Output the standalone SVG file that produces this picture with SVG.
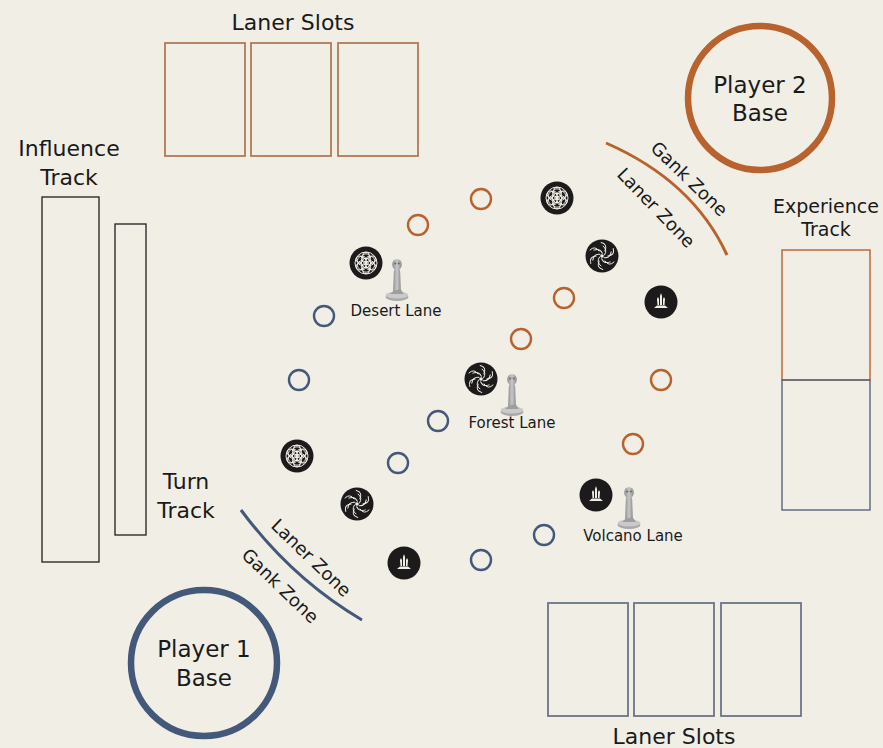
<svg xmlns="http://www.w3.org/2000/svg" xmlns:xlink="http://www.w3.org/1999/xlink" width="883" height="748" viewBox="0 0 883 748">
  <style>
    text { font-family: "DejaVu Sans", "Liberation Sans", sans-serif; fill: #1a1a1a; text-anchor: middle; }
    .lbl { font-size: 22px; }
    .base { font-size: 23px; }
    .lane { font-size: 15px; }
    .zone { font-size: 18px; }
    .or { stroke: #B8622E; fill: none; }
    .bl { stroke: #44587A; fill: none; }
    .dk { stroke: #1e1e1e; fill: none; stroke-width: 1.3; }
    .slot-o { stroke: #B07A56; fill: none; stroke-width: 1.8; }
    .slot-b { stroke: #6B7488; fill: none; stroke-width: 1.8; }
    .spot { stroke-width: 2.4; fill: none; }
    .tok { fill: #1c1a1a; }
    .ic { stroke: #f1eee6; fill: none; stroke-width: 1; }
  </style>
  <defs>
    <symbol id="flower" viewBox="-16 -16 32 32" overflow="visible">
      <circle r="16.5" class="tok"/>
      <g class="ic" stroke-width="0.8">
        <circle r="11"/>
        <circle r="4.6"/>
        <circle cx="0" cy="-4.6" r="4.6"/>
        <circle cx="0" cy="4.6" r="4.6"/>
        <circle cx="3.98" cy="-2.3" r="4.6"/>
        <circle cx="3.98" cy="2.3" r="4.6"/>
        <circle cx="-3.98" cy="-2.3" r="4.6"/>
        <circle cx="-3.98" cy="2.3" r="4.6"/>
        <circle cx="0" cy="-7.4" r="3.4"/>
        <circle cx="0" cy="7.4" r="3.4"/>
        <circle cx="6.4" cy="-3.7" r="3.4"/>
        <circle cx="6.4" cy="3.7" r="3.4"/>
        <circle cx="-6.4" cy="-3.7" r="3.4"/>
        <circle cx="-6.4" cy="3.7" r="3.4"/>
      </g>
    </symbol>
    <symbol id="spiral" viewBox="-16 -16 32 32" overflow="visible">
      <circle r="16.5" class="tok"/>
      <g class="ic" stroke-width="1.5" stroke-linecap="round">
        <path d="M2.5,-1 Q6,-6 1,-10"/>
        <path d="M2.5,-1 Q6,-6 1,-10" transform="rotate(60)"/>
        <path d="M2.5,-1 Q6,-6 1,-10" transform="rotate(120)"/>
        <path d="M2.5,-1 Q6,-6 1,-10" transform="rotate(180)"/>
        <path d="M2.5,-1 Q6,-6 1,-10" transform="rotate(240)"/>
        <path d="M2.5,-1 Q6,-6 1,-10" transform="rotate(300)"/>
        <path d="M5,-3 Q11,-7 6,-12" transform="rotate(30)"/>
        <path d="M5,-3 Q11,-7 6,-12" transform="rotate(90)"/>
        <path d="M5,-3 Q11,-7 6,-12" transform="rotate(150)"/>
        <path d="M5,-3 Q11,-7 6,-12" transform="rotate(210)"/>
        <path d="M5,-3 Q11,-7 6,-12" transform="rotate(270)"/>
        <path d="M5,-3 Q11,-7 6,-12" transform="rotate(330)"/>
      </g>
      <circle r="1.8" fill="#f1eee6"/>
    </symbol>
    <symbol id="crystal" viewBox="-16 -16 32 32" overflow="visible">
      <circle r="16.5" class="tok"/>
      <g fill="#f1eee6">
        <path d="M-1,3 L-1,-6 L0,-9 L1,-6 L1,3 Z"/>
        <path d="M-3.5,3 L-4,-3 L-3,-5 L-2,-3 L-2,3 Z"/>
        <path d="M2,3 L2,-3 L3,-5 L4,-3 L3.5,3 Z"/>
        <path d="M-7,6 L-4,3.5 L4,3.5 L7,6 Z"/>
      </g>
    </symbol>
    <linearGradient id="pewter" x1="0" x2="1" y1="0" y2="0">
      <stop offset="0" stop-color="#8f8f8f"/>
      <stop offset="0.5" stop-color="#c8c8c8"/>
      <stop offset="1" stop-color="#8c8c8c"/>
    </linearGradient>
    <symbol id="figure" viewBox="-12 -22 24 44" overflow="visible">
      <ellipse cx="0" cy="17" rx="11.5" ry="4" fill="#a9a9a9"/>
      <ellipse cx="0" cy="15" rx="11.5" ry="3.5" fill="#cacaca"/>
      <path d="M-4,14 L-3.2,-8 Q-3,-12 0,-12 Q3,-12 3.2,-8 L4,14 Z" fill="url(#pewter)"/>
      <path d="M-3.5,11 L-7,14 L7,14 L3.5,9 Z" fill="#9e9e9e"/>
      <ellipse cx="0" cy="-15.5" rx="4.8" ry="5.6" fill="url(#pewter)"/>
      <ellipse cx="-1.8" cy="-16.5" rx="1.2" ry="1" fill="#6f6f6f"/>
      <ellipse cx="1.8" cy="-16.5" rx="1.2" ry="1" fill="#6f6f6f"/>
    </symbol>
  </defs>

  <rect width="883" height="748" fill="#F1EEE6"/>

  <!-- Player 2 laner slots (top) -->
  <g id="laner-slots-p2">
    <text class="lbl" x="293" y="30">Laner Slots</text>
    <rect class="slot-o" x="165" y="43" width="80" height="113"/>
    <rect class="slot-o" x="251" y="43" width="80" height="113"/>
    <rect class="slot-o" x="338" y="43" width="80" height="113"/>
  </g>

  <!-- Player 1 laner slots (bottom) -->
  <g id="laner-slots-p1">
    <rect class="slot-b" x="548" y="603" width="80" height="113"/>
    <rect class="slot-b" x="634" y="603" width="80" height="113"/>
    <rect class="slot-b" x="721" y="603" width="80" height="113"/>
    <text class="lbl" x="674" y="744">Laner Slots</text>
  </g>

  <!-- Bases -->
  <g id="player2-base">
    <circle class="or" cx="760" cy="98" r="72" stroke-width="6.5"/>
    <text class="base" x="760" y="93">Player 2</text>
    <text class="base" x="760" y="121">Base</text>
  </g>
  <g id="player1-base">
    <circle class="bl" cx="204" cy="663" r="73" stroke-width="6.5"/>
    <text class="base" x="204" y="657">Player 1</text>
    <text class="base" x="204" y="686">Base</text>
  </g>

  <!-- Tracks -->
  <g id="influence-track">
    <text class="lbl" x="69" y="156">Influence</text>
    <text class="lbl" x="69" y="185">Track</text>
    <rect class="dk" x="42" y="197" width="57" height="365"/>
  </g>
  <g id="turn-track">
    <rect class="dk" x="115" y="224" width="31" height="311"/>
    <text class="lbl" x="186" y="489">Turn</text>
    <text class="lbl" x="186" y="518">Track</text>
  </g>
  <g id="experience-track">
    <text x="826" y="213" style="font-size:19px">Experience</text>
    <text x="826" y="236" style="font-size:19px">Track</text>
    <rect x="782" y="250" width="88" height="130" fill="none" stroke="#B8622E" stroke-width="1.4"/>
    <rect x="782" y="380" width="88" height="130" fill="none" stroke="#56647E" stroke-width="1.4"/>
  </g>

  <!-- Zone dividers -->
  <g id="zones-p2">
    <path class="or" d="M606,143 Q693,181 727,255" stroke-width="3"/>
    <text class="zone" transform="translate(689,179) rotate(44)" dy="6">Gank Zone</text>
    <text class="zone" transform="translate(656,208) rotate(46)" dy="6">Laner Zone</text>
  </g>
  <g id="zones-p1">
    <path class="bl" d="M241,510 Q292,579 362,620" stroke-width="3"/>
    <text class="zone" transform="translate(311,558) rotate(44)" dy="6">Laner Zone</text>
    <text class="zone" transform="translate(280,586) rotate(44)" dy="6">Gank Zone</text>
  </g>

  <!-- Lane spaces -->
  <g id="spaces-p2" class="or">
    <circle class="spot" cx="418" cy="225" r="10"/>
    <circle class="spot" cx="481" cy="199" r="10"/>
    <circle class="spot" cx="564" cy="298" r="10"/>
    <circle class="spot" cx="521" cy="339" r="10"/>
    <circle class="spot" cx="661" cy="380" r="10"/>
    <circle class="spot" cx="633" cy="444" r="10"/>
  </g>
  <g id="spaces-p1" class="bl">
    <circle class="spot" cx="324" cy="316" r="10"/>
    <circle class="spot" cx="299" cy="380" r="10"/>
    <circle class="spot" cx="438" cy="421" r="10"/>
    <circle class="spot" cx="398" cy="463" r="10"/>
    <circle class="spot" cx="544" cy="535" r="10"/>
    <circle class="spot" cx="481" cy="560" r="10"/>
  </g>

  <!-- Terrain tokens -->
  <g id="tokens">
    <use xlink:href="#flower" x="350" y="247" width="32" height="32"/>
    <use xlink:href="#flower" x="541" y="182" width="32" height="32"/>
    <use xlink:href="#flower" x="281" y="440" width="32" height="32"/>
    <use xlink:href="#spiral" x="586" y="240" width="32" height="32"/>
    <use xlink:href="#spiral" x="465" y="363" width="32" height="32"/>
    <use xlink:href="#spiral" x="341" y="488" width="32" height="32"/>
    <use xlink:href="#crystal" x="645" y="286" width="32" height="32"/>
    <use xlink:href="#crystal" x="388" y="547" width="32" height="32"/>
    <use xlink:href="#crystal" x="580" y="479" width="32" height="32"/>
  </g>

  <!-- Lanes -->
  <g id="desert-lane">
    <use xlink:href="#figure" x="385" y="258" width="24" height="44"/>
    <text class="lane" x="396" y="316">Desert Lane</text>
  </g>
  <g id="forest-lane">
    <use xlink:href="#figure" x="500" y="373" width="24" height="44"/>
    <text class="lane" x="512" y="428">Forest Lane</text>
  </g>
  <g id="volcano-lane">
    <use xlink:href="#figure" x="617" y="486" width="24" height="44"/>
    <text class="lane" x="633" y="541">Volcano Lane</text>
  </g>
</svg>
